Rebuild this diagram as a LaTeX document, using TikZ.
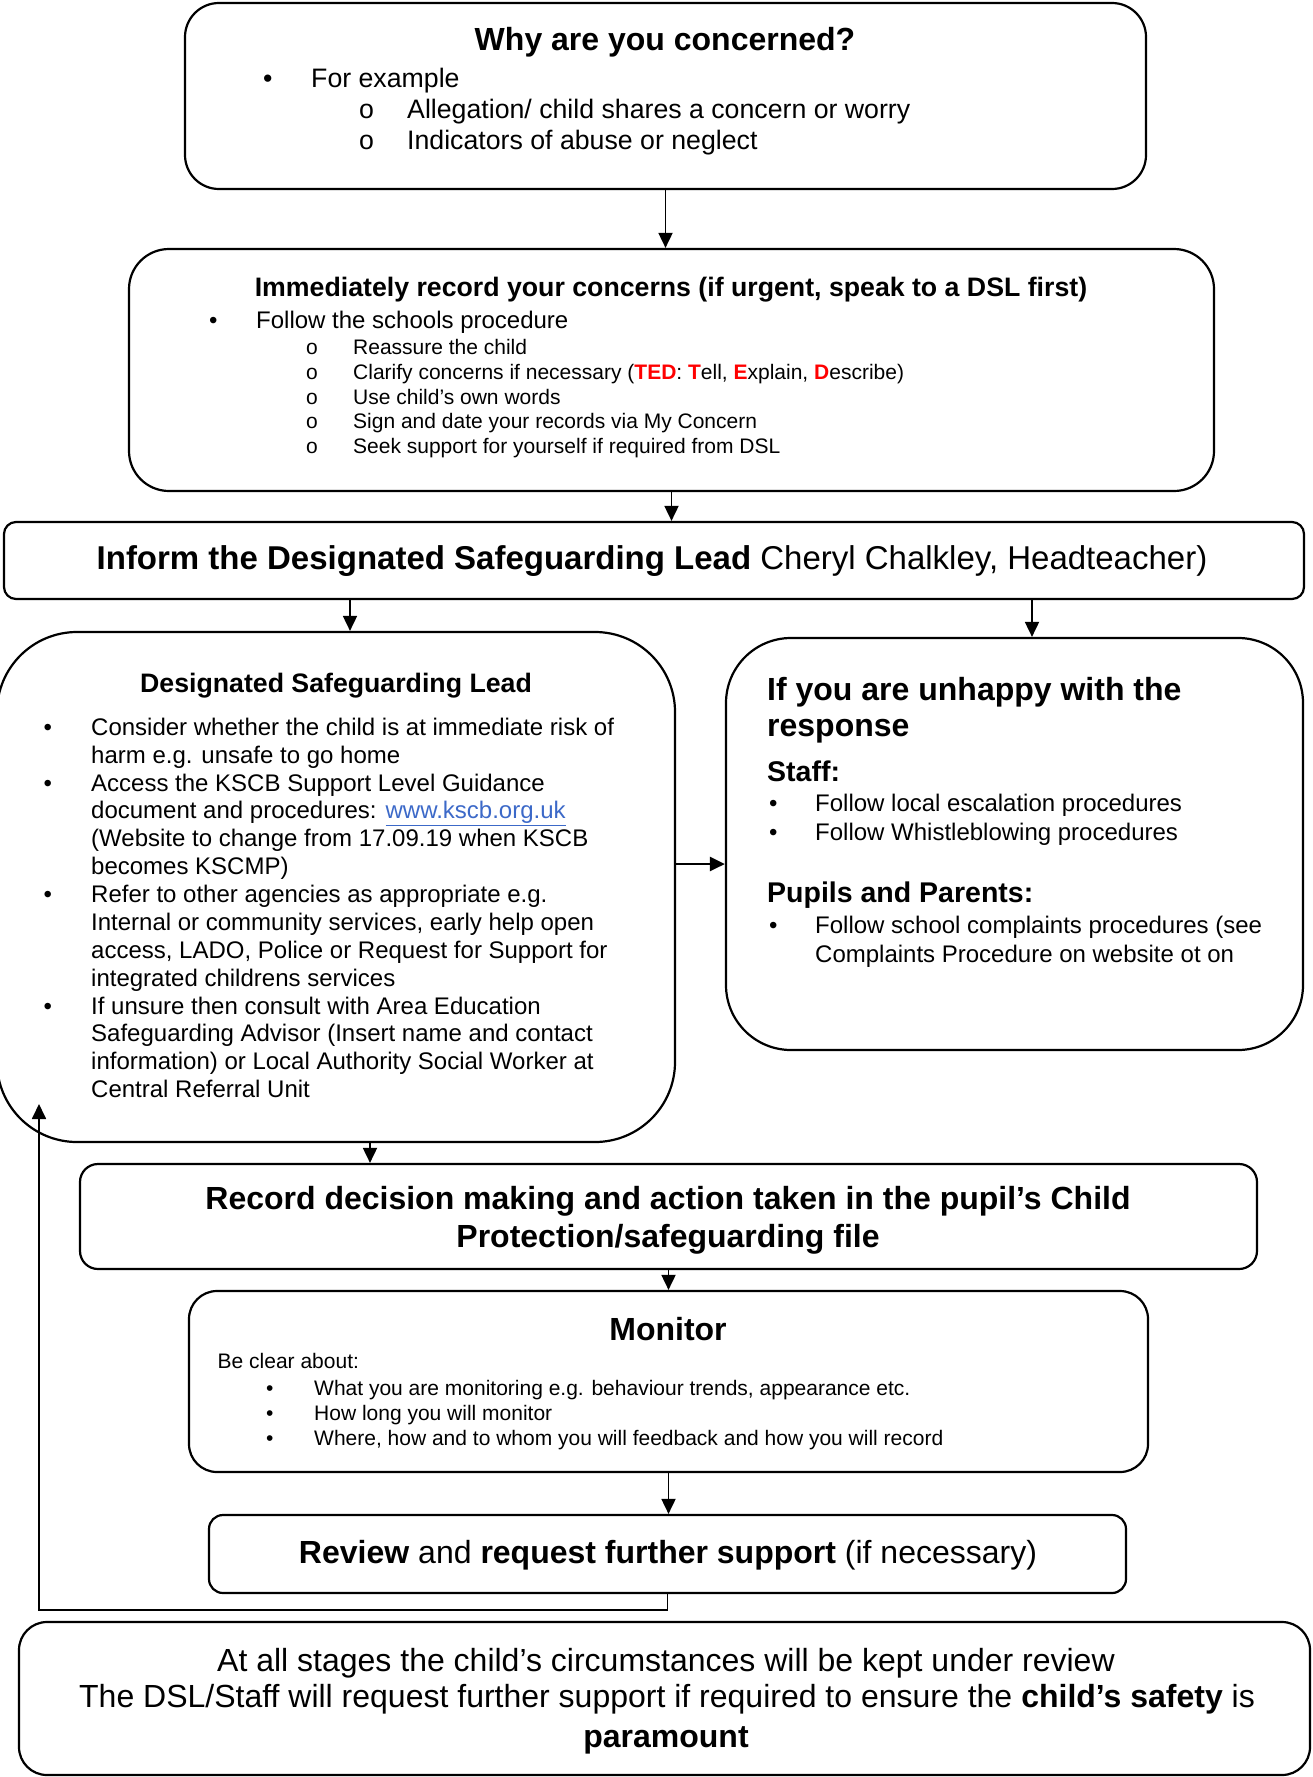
\documentclass[tikz,border=0pt]{standalone}
\usepackage{fontspec}
\setmainfont{Liberation Sans}
\usetikzlibrary{arrows.meta}
\definecolor{tedred}{RGB}{255,0,0}
\definecolor{linkblue}{RGB}{60,105,200}

\begin{document}
\begin{tikzpicture}[x=1pt, y=-1pt,
  box/.style = {draw, line width=2.2pt, inner sep=0pt},
  arr/.style = {-{Triangle[length=15pt,width=14pt]}, line width=1.8pt},
  tl/.style = {inner sep=0pt, anchor=base west},
  tc/.style = {inner sep=0pt, anchor=base},
  h32/.style = {font=\fontsize{32}{37}\selectfont\bfseries},
  n33/.style = {font=\fontsize{33}{38}\selectfont},
  n32/.style = {font=\fontsize{32}{37}\selectfont},
  h28/.style = {font=\fontsize{28.5}{33}\selectfont\bfseries},
  h27/.style = {font=\fontsize{26.7}{31}\selectfont\bfseries},
  n27/.style = {font=\fontsize{26.7}{31}\selectfont},
  n24/.style = {font=\fontsize{24}{28}\selectfont},
  n21/.style = {font=\fontsize{21}{25}\selectfont}]
\useasboundingbox (0,0) rectangle (1312,1777);

% boxes
\node[box, rounded corners=34pt, minimum width=961pt, minimum height=186pt] (1) at (665.5,96) {};
\node[box, rounded corners=40pt, minimum width=1085pt, minimum height=242pt] (2) at (671.5,370) {};
\node[box, rounded corners=12pt, minimum width=1300pt, minimum height=77pt] (3) at (654,560.5) {};
\node[box, rounded corners=80pt, minimum width=678pt, minimum height=510pt] (4) at (336,887) {};
\node[box, rounded corners=65pt, minimum width=577pt, minimum height=412pt] (5) at (1014.5,844) {};
\node[box, rounded corners=18pt, minimum width=1177pt, minimum height=105pt] (6) at (668.5,1216.5) {};
\node[box, rounded corners=28pt, minimum width=959pt, minimum height=181pt] (7) at (668.5,1381.5) {};
\node[box, rounded corners=14pt, minimum width=917pt, minimum height=78pt] (8) at (667.5,1554) {};
\node[box, rounded corners=28pt, minimum width=1291pt, minimum height=153pt] (9) at (664.5,1698.5) {};

% why
\node[tc, h32] (1a) at (665,51) {Why are you concerned?};
\node[tl, n27] (1b) at (263,88) {\textbullet};
\node[tl, n27] (1c) at (311,88) {For example};
\node[tl, n27] (1d) at (359,118) {o};
\node[tl, n27] (1e) at (407,118) {Allegation/ child shares a concern or worry};
\node[tl, n27] (1f) at (359,149) {o};
\node[tl, n27] (1g) at (407,149) {Indicators of abuse or neglect};

% record
\node[tc, h27] (2a) at (671,296) {Immediately record your concerns (if urgent, speak to a DSL first)};
\node[tl, n24] (2b) at (209,328) {\textbullet};
\node[tl, n24] (2c) at (256,328) {Follow the schools procedure};
\node[tl, n21] (2d) at (306,354.5) {o};
\node[tl, n21] (2e) at (353,354.5) {Reassure the child};
\node[tl, n21] (2f) at (306,379.3) {o};
\node[tl, n21] (2g) at (353,379.3) {Clarify concerns if necessary (\textcolor{tedred}{\textbf{TED}}: \textcolor{tedred}{\textbf{T}}ell, \textcolor{tedred}{\textbf{E}}xplain, \textcolor{tedred}{\textbf{D}}escribe)};
\node[tl, n21] (2h) at (306,404.1) {o};
\node[tl, n21] (2i) at (353,404.1) {Use child’s own words};
\node[tl, n21] (2j) at (306,428.9) {o};
\node[tl, n21] (2k) at (353,428.9) {Sign and date your records via My Concern};
\node[tl, n21] (2l) at (306,453.7) {o};
\node[tl, n21] (2m) at (353,453.7) {Seek support for yourself if required from DSL};

% inform
\node[tc, n33] (3a) at (652,569) {\textbf{Inform the Designated Safeguarding Lead} Cheryl Chalkley, Headteacher)};

% dsl
\node[tc, h27] (4a) at (336,692.5) {Designated Safeguarding Lead};
\node[tl, n24] (4b) at (43.5,735.2) {\textbullet};
\node[tl, n24] (4c) at (91,735.2) {Consider whether the child is at immediate risk of};
\node[tl, n24] (4d) at (91,763.1) {harm e.g. unsafe to go home};
\node[tl, n24] (4e) at (43.5,791) {\textbullet};
\node[tl, n24] (4f) at (91,791) {Access the KSCB Support Level Guidance};
\node[tl, n24] (4g) at (91,818.8) {document and procedures: \textcolor{linkblue}{\underline{www.kscb.org.uk}}};
\node[tl, n24] (4h) at (91,846.7) {(Website to change from 17.09.19 when KSCB};
\node[tl, n24] (4i) at (91,874.6) {becomes KSCMP)};
\node[tl, n24] (4j) at (43.5,902.5) {\textbullet};
\node[tl, n24] (4k) at (91,902.5) {Refer to other agencies as appropriate e.g.};
\node[tl, n24] (4l) at (91,930.4) {Internal or community services, early help open};
\node[tl, n24] (4m) at (91,958.2) {access, LADO, Police or Request for Support for};
\node[tl, n24] (4n) at (91,986.1) {integrated childrens services};
\node[tl, n24] (4o) at (43.5,1014) {\textbullet};
\node[tl, n24] (4p) at (91,1014) {If unsure then consult with Area Education};
\node[tl, n24] (4q) at (91,1041.9) {Safeguarding Advisor (Insert name and contact};
\node[tl, n24] (4r) at (91,1069.8) {information) or Local Authority Social Worker at};
\node[tl, n24] (4s) at (91,1097.6) {Central Referral Unit};

% unhappy
\node[tl, h32] (5a) at (767,700) {If you are unhappy with the};
\node[tl, h32] (5b) at (767,736) {response};
\node[tl, h28] (5c) at (767,781) {Staff:};
\node[tl, n24] (5d) at (769,811) {\textbullet};
\node[tl, n24] (5e) at (815,811) {Follow local escalation procedures};
\node[tl, n24] (5f) at (769,840) {\textbullet};
\node[tl, n24] (5g) at (815,840) {Follow Whistleblowing procedures};
\node[tl, h28] (5h) at (767,902) {Pupils and Parents:};
\node[tl, n24] (5i) at (769,933.5) {\textbullet};
\node[tl, n24] (5j) at (815,933.5) {Follow school complaints procedures (see};
\node[tl, n24] (5k) at (815,962) {Complaints Procedure on website ot on};

% file
\node[tc, h32] (6a) at (668,1209) {Record decision making and action taken in the pupil’s Child};
\node[tc, h32] (6b) at (668,1247) {Protection/safeguarding file};

% monitor
\node[tc, h32] (7a) at (668,1340) {Monitor};
\node[tl, n21] (7b) at (217.5,1368.5) {Be clear about:};
\node[tl, n21] (7c) at (266,1395.5) {\textbullet};
\node[tl, n21] (7d) at (314,1395.5) {What you are monitoring e.g. behaviour trends, appearance etc.};
\node[tl, n21] (7e) at (266,1420.5) {\textbullet};
\node[tl, n21] (7f) at (314,1420.5) {How long you will monitor};
\node[tl, n21] (7g) at (266,1445.5) {\textbullet};
\node[tl, n21] (7h) at (314,1445.5) {Where, how and to whom you will feedback and how you will record};

% review
\node[tc, n32] (8a) at (668,1563) {\textbf{Review} and \textbf{request further support} (if necessary)};

% at all stages
\node[tc, n32] (9a) at (666,1671) {At all stages the child’s circumstances will be kept under review};
\node[tc, n32] (9b) at (667,1707) {The DSL/Staff will request further support if required to ensure the \textbf{child’s safety} is};
\node[tc, n32] (9c) at (666,1747) {\textbf{paramount}};

% connectors
\coordinate (x34) at (350,0);
\coordinate (x35) at (1032,0);
\coordinate (y45) at (0,864);
\coordinate (x46) at (370,0);
\coordinate (back) at (39,1610);
\coordinate (backtip) at (39,1104);
\draw[arr] (1.south) -- (1.south |- 2.north);
\draw[arr] (2.south) -- (2.south |- 3.north);
\draw[arr] (3.south -| x34) -- (4.north -| x34);
\draw[arr] (3.south -| x35) -- (5.north -| x35);
\draw[arr, line width=2.7pt] (4.east |- y45) -- (5.west |- y45);
\draw[arr] (4.south -| x46) -- (6.north -| x46);
\draw[arr] (6.south) -- (6.south |- 7.north);
\draw[arr] (7.south) -- (7.south |- 8.north);
\draw[arr] (8.south) |- (back) -- (backtip);
\end{tikzpicture}
\end{document}
